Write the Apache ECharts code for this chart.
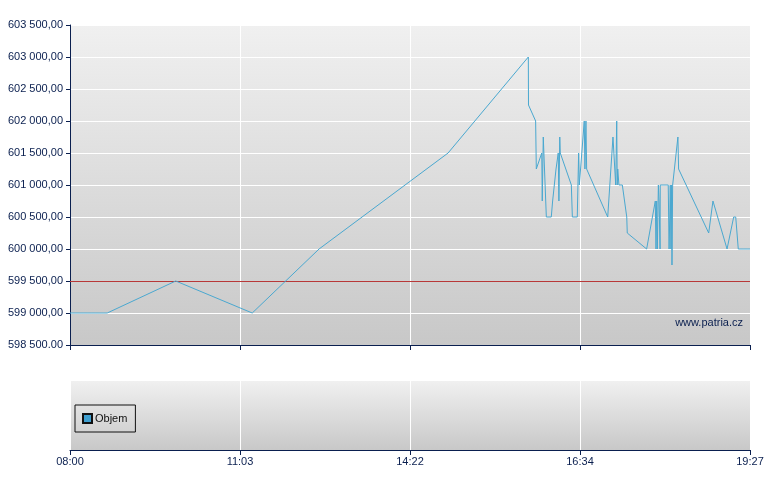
<!DOCTYPE html>
<html>
<head>
<meta charset="utf-8">
<script src="https://cdn.jsdelivr.net/npm/echarts@6/dist/echarts.min.js"></script>
<style>html,body{margin:0;padding:0;background:#fff;}#c{width:780px;height:490px;}</style>
</head>
<body>
<div id="c"></div>
<script>
// x position in session quarters (0..4), labels at each quarter
const xTickLabels = ['08:00', '11:03', '14:22', '16:34', '19:27'];
const yTickValues = [598500, 599000, 599500, 600000, 600500, 601000, 601500, 602000, 602500, 603000, 603500];
const yTickLabels = ['598 500.00', '599 000,00', '599 500,00', '600 000,00', '600 500,00', '601 000,00', '601 500,00', '602 000,00', '602 500,00', '603 000,00', '603 500,00'];
const refLevel = 599500;
const seriesName = 'Cena';
const volumeName = 'Objem';
const xPos = [0, 0.219, 0.622, 1.072, 1.465, 2.224, 2.696, 2.697, 2.739, 2.743, 2.775, 2.778, 2.784, 2.802, 2.831, 2.839, 2.849, 2.859, 2.865, 2.872, 2.876, 2.881, 2.884, 2.949, 2.955, 2.984, 2.992, 2.996, 3.025, 3.029, 3.035, 3.039, 3.163, 3.194, 3.210, 3.216, 3.219, 3.222, 3.229, 3.249, 3.275, 3.278, 3.392, 3.443, 3.447, 3.451, 3.455, 3.461, 3.465, 3.471, 3.472, 3.519, 3.524, 3.528, 3.531, 3.535, 3.539, 3.541, 3.545, 3.549, 3.576, 3.580, 3.757, 3.782, 3.865, 3.904, 3.916, 3.931, 4.0];
const prices = [599000, 599000, 599500, 599000, 600000, 601500, 603000, 602250, 602000, 601250, 601500, 600750, 601750, 600500, 600500, 600750, 600750, 601250, 601250, 601500, 600750, 601750, 601500, 601000, 600500, 600500, 601500, 601000, 602000, 601250, 602000, 601250, 600500, 601750, 601000, 602000, 601000, 601250, 601000, 601000, 600500, 600250, 600000, 600750, 600000, 600750, 600000, 601000, 600750, 600000, 601000, 601000, 600000, 600500, 601000, 600000, 601000, 599750, 601000, 601000, 601750, 601250, 600250, 600750, 600000, 600500, 600500, 600000, 600000];
const volumes = [];

const navy = '#0a1f4f';
const chart = echarts.init(document.getElementById('c'), null, {renderer: 'canvas'});
const grad = () => new echarts.graphic.LinearGradient(0, 0, 0, 1, [{offset: 0, color: '#f0f0f0'}, {offset: 1, color: '#c8c8c8'}]);
const font = 'Liberation Sans, Arial, sans-serif';

chart.setOption({
  animation: false,
  backgroundColor: '#ffffff',
  textStyle: {fontFamily: font},
  grid: [
    {left: 70, top: 25, width: 680, height: 320, show: true, backgroundColor: grad(), borderWidth: 0},
    {left: 70, top: 381, width: 680, height: 69, show: true, backgroundColor: grad(), borderWidth: 0}
  ],
  legend: {
    data: [{name: volumeName, icon: 'rect'}],
    left: 75, top: 405,
    orient: 'vertical',
    padding: [8, 8, 8, 7],
    itemWidth: 9, itemHeight: 9, itemGap: 4,
    borderColor: '#111', borderWidth: 1,
    backgroundColor: 'transparent',
    textStyle: {color: '#111', fontSize: 11, fontFamily: font, padding: [0, 0, 0, -2]},
    selectedMode: false
  },
  xAxis: [
    {gridIndex: 0, type: 'value', min: 0, max: 4, interval: 1,
      axisLine: {show: true, onZero: false, lineStyle: {color: navy, width: 1}},
      axisTick: {show: true, length: 5, lineStyle: {color: navy}},
      axisLabel: {show: false},
      splitLine: {show: true, lineStyle: {color: '#ffffff', width: 1}}},
    {gridIndex: 1, type: 'value', min: 0, max: 4, interval: 1,
      axisLine: {show: true, onZero: false, lineStyle: {color: navy, width: 1}},
      axisTick: {show: true, length: 5, lineStyle: {color: navy}},
      axisLabel: {show: true, color: navy, fontSize: 11, fontFamily: font, margin: 6,
        formatter: v => xTickLabels[Math.round(v)] || ''},
      splitLine: {show: true, lineStyle: {color: '#ffffff', width: 1}}}
  ],
  yAxis: [
    {gridIndex: 0, type: 'value', min: 598500, max: 603500, interval: 500,
      axisLine: {show: true, lineStyle: {color: navy, width: 1}},
      axisTick: {show: true, length: 4, lineStyle: {color: navy}},
      axisLabel: {color: navy, fontSize: 11, fontFamily: font, margin: 7,
        formatter: v => { const i = yTickValues.indexOf(Math.round(v)); return i >= 0 ? yTickLabels[i] : ''; }},
      splitLine: {show: true, lineStyle: {color: '#ffffff', width: 1}}},
    {gridIndex: 1, type: 'value', min: 0, max: 1,
      axisLine: {show: false}, axisTick: {show: false}, axisLabel: {show: false},
      splitLine: {show: false}}
  ],
  graphic: [
    {type: 'text', right: 37, top: 317, style: {text: 'www.patria.cz', fill: navy, font: '11px Liberation Sans, Arial, sans-serif'}}
  ],
  series: [
    {name: seriesName, type: 'line', xAxisIndex: 0, yAxisIndex: 0,
      data: xPos.map((x, i) => [x, prices[i]]),
      symbol: 'none', lineStyle: {color: '#4aa8d0', width: 1}, itemStyle: {color: '#4aa8d0'},
      markLine: {silent: true, symbol: 'none', label: {show: false},
        lineStyle: {color: '#b83838', type: 'solid', width: 1},
        data: [{yAxis: refLevel}]},
      z: 5},
    {name: volumeName, type: 'bar', xAxisIndex: 1, yAxisIndex: 1, data: volumes,
      itemStyle: {color: '#3f9fd0', borderColor: '#111', borderWidth: 1}}
  ]
});
</script>
</body>
</html>
